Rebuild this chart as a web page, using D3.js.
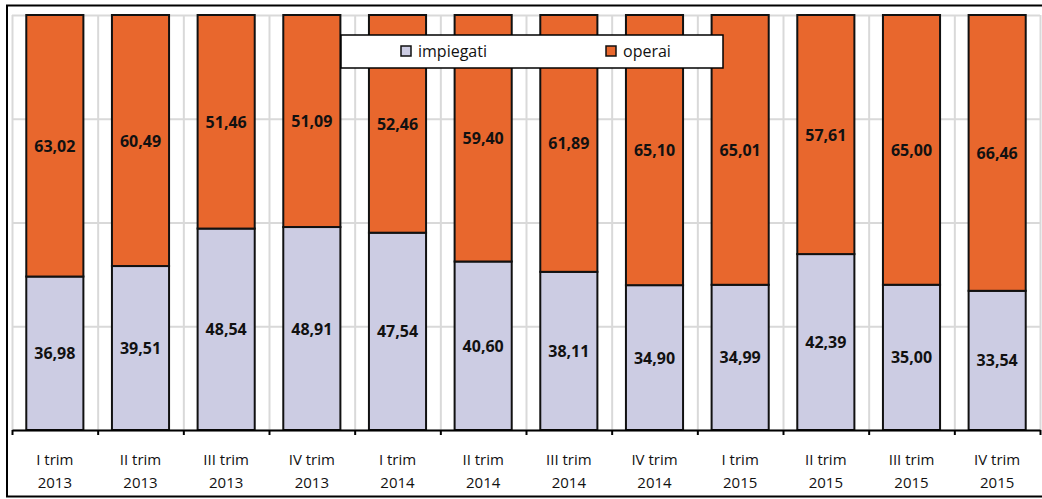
<!DOCTYPE html>
<html>
<head>
<meta charset="utf-8">
<script src="https://cdn.jsdelivr.net/npm/d3@7"></script>
<style>
  html, body { margin: 0; padding: 0; background: #ffffff; }
  svg { display: block; }
</style>
</head>
<body>
<svg id="chart" width="1042" height="499"></svg>
<script>
const categories = ["I trim|2013","II trim|2013","III trim|2013","IV trim|2013",
                    "I trim|2014","II trim|2014","III trim|2014","IV trim|2014",
                    "I trim|2015","II trim|2015","III trim|2015","IV trim|2015"];
const impiegati = [36.98, 39.51, 48.54, 48.91, 47.54, 40.60, 38.11, 34.90, 34.99, 42.39, 35.00, 33.54];
const operai    = [63.02, 60.49, 51.46, 51.09, 52.46, 59.40, 61.89, 65.10, 65.01, 57.61, 65.00, 66.46];
const seriesNames = ["impiegati", "operai"];
const seriesColors = ["#cccce3", "#e8672d"];
const yTicks = [0, 25, 50, 75, 100];

const svg = d3.select("#chart");
const W = 1042, H = 499;
const plot = {left: 12, right: 1040, top: 15, bottom: 430};

// outer frame
svg.append("rect").attr("x", 0).attr("y", 0).attr("width", W).attr("height", H).attr("fill", "#ffffff");
svg.append("rect").attr("x", 7).attr("y", 5.5).attr("width", W + 10).attr("height", 491)
  .attr("fill", "#ffffff").attr("stroke", "#000").attr("stroke-width", 2);

const x = d3.scaleBand().domain(categories).range([plot.left, plot.right])
  .paddingInner(1/3).paddingOuter(1/6);
const xb = d3.scaleLinear().domain([0, categories.length]).range([plot.left, plot.right]);
const y = d3.scaleLinear().domain([0, 100]).range([plot.bottom, plot.top]);

// horizontal gridlines
svg.append("g").attr("transform", `translate(${plot.left},0)`)
  .call(d3.axisLeft(y).tickValues(yTicks).tickSize(-(plot.right - plot.left)).tickFormat(""))
  .call(g => g.select(".domain").remove())
  .call(g => g.selectAll("line").attr("stroke", "#d9d9d9").attr("stroke-width", 2));

// vertical gridlines at category boundaries
svg.append("g").attr("transform", `translate(0,${plot.top})`)
  .call(d3.axisBottom(xb).tickValues(d3.range(0, categories.length + 1)).tickSize(plot.bottom - plot.top).tickFormat(""))
  .call(g => g.select(".domain").remove())
  .call(g => g.selectAll("line").attr("stroke", "#d9d9d9").attr("stroke-width", 2));

// stacked data
const rows = categories.map((c, i) => ({cat: c, impiegati: impiegati[i], operai: operai[i]}));
const stack = d3.stack().keys(seriesNames)(rows);
const color = d3.scaleOrdinal().domain(seriesNames).range(seriesColors);

const layers = svg.append("g").selectAll("g").data(stack).join("g")
  .attr("fill", d => color(d.key));
layers.selectAll("rect").data(d => d).join("rect")
  .attr("x", d => x(d.data.cat))
  .attr("y", d => y(d[1]))
  .attr("width", x.bandwidth())
  .attr("height", d => y(d[0]) - y(d[1]))
  .attr("stroke", "#111").attr("stroke-width", 2);

// value labels
const fmt = v => v.toFixed(2).replace(".", ",");
stack.forEach(layer => {
  svg.append("g").selectAll("text").data(layer).join("text")
    .attr("x", d => x(d.data.cat) + x.bandwidth() / 2)
    .attr("y", d => (y(d[0]) + y(d[1])) / 2)
    .attr("text-anchor", "middle").attr("dominant-baseline", "central")
    .attr("font-family", "'Open Sans', sans-serif").attr("font-weight", "bold")
    .attr("font-size", 16).attr("fill", "#111")
    .text(d => fmt(d[1] - d[0]));
});

// x axis
svg.append("g").attr("transform", `translate(0,${plot.bottom})`)
  .call(d3.axisBottom(xb).tickValues(d3.range(0, categories.length + 1)).tickSize(5).tickFormat("").tickSizeOuter(0))
  .call(g => g.select(".domain").attr("stroke", "#000").attr("stroke-width", 2))
  .call(g => g.selectAll("line").attr("stroke", "#000").attr("stroke-width", 2));

const lab = svg.append("g").selectAll("text").data(categories).join("text")
  .attr("text-anchor", "middle")
  .attr("font-family", "'Open Sans', sans-serif").attr("font-size", 15).attr("fill", "#111");
lab.append("tspan").attr("x", d => x(d) + x.bandwidth() / 2).attr("y", 465).text(d => d.split("|")[0]);
lab.append("tspan").attr("x", d => x(d) + x.bandwidth() / 2).attr("y", 488).text(d => d.split("|")[1]);

// legend
const leg = svg.append("g");
leg.append("rect").attr("x", 341).attr("y", 35).attr("width", 382).attr("height", 33)
  .attr("fill", "#fff").attr("stroke", "#000").attr("stroke-width", 1.5);
const legX = [401, 606];
seriesNames.forEach((s, i) => {
  leg.append("rect").attr("x", legX[i]).attr("y", 46).attr("width", 10).attr("height", 10)
    .attr("fill", color(s)).attr("stroke", "#111").attr("stroke-width", 1.5);
  leg.append("text").attr("x", legX[i] + 17).attr("y", 57)
    .attr("font-family", "'Open Sans', sans-serif").attr("font-size", 16).attr("fill", "#111")
    .text(s);
});
</script>
</body>
</html>
